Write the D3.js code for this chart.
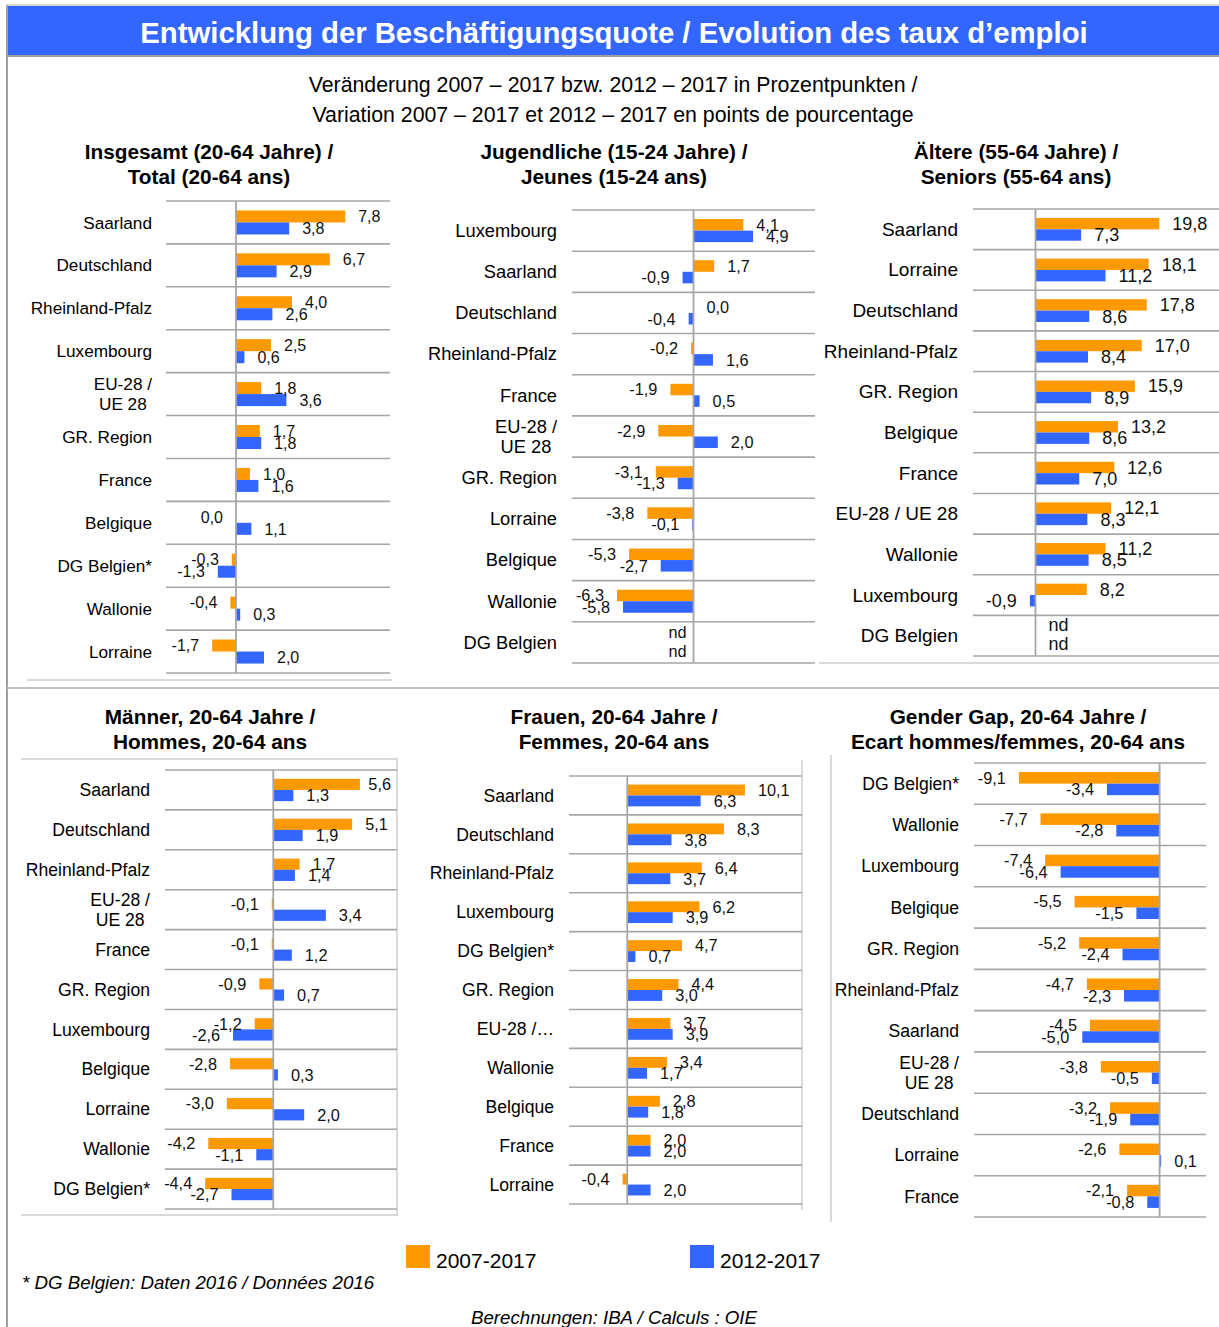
<!DOCTYPE html>
<html><head><meta charset="utf-8">
<script src="https://cdn.jsdelivr.net/npm/d3@7"></script>
<style>
body{margin:0;background:#fff;}
text{font-family:"Liberation Sans",Arial,sans-serif;}
</style></head>
<body><svg id="c" width="1219" height="1327"></svg>
<script>
// ---------- DATA ----------
const seriesNames = ["2007-2017", "2012-2017"];

const totalTitle = ["Insgesamt (20-64 Jahre) /", "Total (20-64 ans)"];
const totalCats = ["Saarland","Deutschland","Rheinland-Pfalz","Luxembourg","EU-28 /\nUE 28","GR. Region","France","Belgique","DG Belgien*","Wallonie","Lorraine"];
const total0717 = [7.8, 6.7, 4.0, 2.5, 1.8, 1.7, 1.0, -0, -0.3, -0.4, -1.7];
const total1217 = [3.8, 2.9, 2.6, 0.6, 3.6, 1.8, 1.6, 1.1, -1.3, 0.3, 2.0];

const youthTitle = ["Jugendliche (15-24 Jahre) /", "Jeunes (15-24 ans)"];
const youthCats = ["Luxembourg","Saarland","Deutschland","Rheinland-Pfalz","France","EU-28 /\nUE 28","GR. Region","Lorraine","Belgique","Wallonie","DG Belgien"];
const youth0717 = [4.1, 1.7, 0.0, -0.2, -1.9, -2.9, -3.1, -3.8, -5.3, -6.3, null];
const youth1217 = [4.9, -0.9, -0.4, 1.6, 0.5, 2.0, -1.3, -0.1, -2.7, -5.8, null];

const seniorTitle = ["Ältere (55-64 Jahre) /", "Seniors (55-64 ans)"];
const seniorCats = ["Saarland","Lorraine","Deutschland","Rheinland-Pfalz","GR. Region","Belgique","France","EU-28 / UE 28","Wallonie","Luxembourg","DG Belgien"];
const senior0717 = [19.8, 18.1, 17.8, 17.0, 15.9, 13.2, 12.6, 12.1, 11.2, 8.2, null];
const senior1217 = [7.3, 11.2, 8.6, 8.4, 8.9, 8.6, 7.0, 8.3, 8.5, -0.9, null];

const menTitle = ["Männer, 20-64 Jahre /", "Hommes, 20-64 ans"];
const menCats = ["Saarland","Deutschland","Rheinland-Pfalz","EU-28 /\nUE 28","France","GR. Region","Luxembourg","Belgique","Lorraine","Wallonie","DG Belgien*"];
const men0717 = [5.6, 5.1, 1.7, -0.1, -0.1, -0.9, -1.2, -2.8, -3.0, -4.2, -4.4];
const men1217 = [1.3, 1.9, 1.4, 3.4, 1.2, 0.7, -2.6, 0.3, 2.0, -1.1, -2.7];

const womenTitle = ["Frauen, 20-64 Jahre /", "Femmes, 20-64 ans"];
const womenCats = ["Saarland","Deutschland","Rheinland-Pfalz","Luxembourg","DG Belgien*","GR. Region","EU-28 /…","Wallonie","Belgique","France","Lorraine"];
const women0717 = [10.1, 8.3, 6.4, 6.2, 4.7, 4.4, 3.7, 3.4, 2.8, 2.0, -0.4];
const women1217 = [6.3, 3.8, 3.7, 3.9, 0.7, 3.0, 3.9, 1.7, 1.8, 2.0, 2.0];

const gapTitle = ["Gender Gap, 20-64 Jahre /", "Ecart hommes/femmes, 20-64 ans"];
const gapCats = ["DG Belgien*","Wallonie","Luxembourg","Belgique","GR. Region","Rheinland-Pfalz","Saarland","EU-28 /\nUE 28","Deutschland","Lorraine","France"];
const gap0717 = [-9.1, -7.7, -7.4, -5.5, -5.2, -4.7, -4.5, -3.8, -3.2, -2.6, -2.1];
const gap1217 = [-3.4, -2.8, -6.4, -1.5, -2.4, -2.3, -5.0, -0.5, -1.9, 0.1, -0.8];

// ---------- LAYOUT ----------
const panels = [
  {title: totalTitle, cats: totalCats, a: total0717, b: total1217, domain: [-5, 11], xr: [166, 390], gridR: 390, yr: [201, 673], titleX: 209, titleY: 159, labR: 152, catFs: 17.2, valFs: 16, ndSide: 1},
  {title: youthTitle, cats: youthCats, a: youth0717, b: youth1217, domain: [-10, 10], xr: [572, 815], gridR: 815, yr: [210, 663], titleX: 614, titleY: 159, labR: 557, catFs: 18.3, valFs: 16.3, ndSide: -1},
  {title: seniorTitle, cats: seniorCats, a: senior0717, b: senior1217, domain: [-10, 30], xr: [973, 1223], gridR: 1219, yr: [209, 656], titleX: 1016, titleY: 159, labR: 958, catFs: 19, valFs: 18, ndSide: 1},
  {title: menTitle, cats: menCats, a: men0717, b: men1217, domain: [-7, 8], xr: [165, 397], gridR: 397, yr: [770, 1209], titleX: 210, titleY: 724, labR: 150, catFs: 17.6, valFs: 16.3, ndSide: 1},
  {title: womenTitle, cats: womenCats, a: women0717, b: women1217, domain: [-5, 15], xr: [569, 802], gridR: 802, yr: [776, 1204], titleX: 614, titleY: 724, labR: 554, catFs: 17.6, valFs: 16.3, ndSide: 1},
  {title: gapTitle, cats: gapCats, a: gap0717, b: gap1217, domain: [-12, 3], xr: [974, 1206], gridR: 1206, yr: [763, 1217], titleX: 1018, titleY: 724, labR: 959, catFs: 17.6, valFs: 16.3, ndSide: 1}
];

const ORANGE = "#ff9900", BLUE = "#3366ff";
const GRID = "#a6a6a6", LIGHT = "#d9d9d9";
const loc = d3.formatLocale({decimal: ",", thousands: ".", grouping: [3], currency: ["", "€"], minus: "-"});
const fmt = loc.format(".1f");

const svg = d3.select("#c");

// frame & title band
svg.append("rect").attr("x", 7).attr("y", 6).attr("width", 1212).attr("height", 49).attr("fill", BLUE);
svg.append("line").attr("x1", 7).attr("x2", 1219).attr("y1", 5).attr("y2", 5).attr("stroke", "#c8c8c8").attr("stroke-width", 1.5);
svg.append("line").attr("x1", 7).attr("x2", 1219).attr("y1", 56).attr("y2", 56).attr("stroke", "#a0a0a0").attr("stroke-width", 2);
svg.append("line").attr("x1", 7).attr("x2", 7).attr("y1", 5).attr("y2", 1327).attr("stroke", "#a0a0a0").attr("stroke-width", 2);
svg.append("text").attr("x", 614).attr("y", 43).attr("text-anchor", "middle").attr("fill", "#fff")
  .attr("font-weight", "bold").attr("font-size", 29.3).text("Entwicklung der Beschäftigungsquote / Evolution des taux d’emploi");

const subtitle = ["Veränderung 2007 – 2017 bzw. 2012 – 2017 in Prozentpunkten /", "Variation 2007 – 2017 et 2012 – 2017 en points de pourcentage"];
svg.selectAll("text.sub").data(subtitle).enter().append("text").attr("class", "sub")
  .attr("x", 613).attr("y", (d, i) => 92 + i * 30).attr("text-anchor", "middle").attr("font-size", 21.3).text(d => d);

// divider between rows of panels
svg.append("line").attr("x1", 7).attr("x2", 1219).attr("y1", 688).attr("y2", 688).attr("stroke", "#c0c0c0").attr("stroke-width", 2);

// chart area borders
const borders = [
  [27, 680, 392, 680], [819, 663, 1219, 663],
  [21, 759, 398, 759], [397, 759, 397, 1215], [21, 1215, 398, 1215],
  [802, 760, 802, 1210], [831, 755, 831, 1222]
];
svg.selectAll("line.border").data(borders).enter().append("line").attr("class", "border")
  .attr("x1", d => d[0]).attr("y1", d => d[1]).attr("x2", d => d[2]).attr("y2", d => d[3])
  .attr("stroke", LIGHT).attr("stroke-width", 2);

panels.forEach(p => {
  const g = svg.append("g");
  const x = d3.scaleLinear().domain(p.domain).range(p.xr);
  const y = d3.scaleBand().domain(p.cats.map((c, i) => i)).range(p.yr).padding(0);
  const bh = y.bandwidth() * 0.28;
  const x0 = x(0);
  const gridL = p.xr[0];

  // title
  g.selectAll("text.pt").data(p.title).enter().append("text").attr("class", "pt")
    .attr("x", p.titleX).attr("y", (d, i) => p.titleY + i * 25).attr("text-anchor", "middle")
    .attr("font-weight", "bold").attr("font-size", 20.8).text(d => d);

  // row separators
  const seps = d3.range(p.cats.length + 1);
  g.selectAll("line.sep").data(seps).enter().append("line").attr("class", "sep")
    .attr("x1", gridL).attr("x2", p.gridR)
    .attr("y1", i => i < p.cats.length ? y(i) : p.yr[1]).attr("y2", i => i < p.cats.length ? y(i) : p.yr[1])
    .attr("stroke", GRID).attr("stroke-width", 1.6);

  // bars
  const rows = p.cats.map((c, i) => ({i, c, a: p.a[i], b: p.b[i]}));
  const barData = [];
  rows.forEach(r => {
    barData.push({i: r.i, v: r.a, s: 0});
    barData.push({i: r.i, v: r.b, s: 1});
  });
  const cy = d => y(d.i) + y.bandwidth() / 2 - bh + d.s * bh;
  g.selectAll("rect.bar").data(barData.filter(d => d.v !== null)).enter().append("rect").attr("class", "bar")
    .attr("x", d => Math.min(x(d.v), x0)).attr("width", d => Math.abs(x(d.v) - x0))
    .attr("y", d => cy(d)).attr("height", bh)
    .attr("fill", d => d.s === 0 ? ORANGE : BLUE);

  // zero axis
  g.append("line").attr("x1", x0).attr("x2", x0).attr("y1", p.yr[0]).attr("y2", p.yr[1])
    .attr("stroke", GRID).attr("stroke-width", 1.8);

  // value labels
  const vl = g.selectAll("text.val").data(barData).enter().append("text").attr("class", "val")
    .attr("font-size", p.valFs).attr("dominant-baseline", "middle").attr("fill", "#111")
    .attr("y", d => d.v === null
      ? y(d.i) + y.bandwidth() / 2 + (d.s === 0 ? -9 : 10)
      : cy(d) + bh / 2 + 1.5)
    .text(d => d.v === null ? "nd" : fmt(d.v === 0 ? 0 : d.v));
  vl.each(function(d) {
    const t = d3.select(this);
    if (d.v === null) {
      if (p.ndSide < 0) t.attr("text-anchor", "end").attr("x", x0 - 7);
      else t.attr("text-anchor", "start").attr("x", x0 + 13);
      return;
    }
    const neg = d.v < 0 || Object.is(d.v, -0);
    if (neg) {
      t.attr("text-anchor", "end").attr("x", x(d.v) - 13);
    } else {
      const w = this.getComputedTextLength();
      let sx = x(d.v) + 13;
      if (sx + w > p.gridR - 6) sx = p.gridR - 6 - w;
      t.attr("text-anchor", "start").attr("x", sx);
    }
  });

  // category labels
  rows.forEach(r => {
    const lines = r.c.split("\n");
    const yc = y(r.i) + y.bandwidth() / 2 + 1.5;
    const lh = 20;
    const tg = g.append("g");
    const ts = lines.map((ln, k) => tg.append("text").attr("font-size", p.catFs).attr("dominant-baseline", "middle")
      .attr("y", yc + (k - (lines.length - 1) / 2) * lh).text(ln));
    if (lines.length === 1) {
      ts[0].attr("text-anchor", "end").attr("x", p.labR);
    } else {
      const maxW = d3.max(ts, t => t.node().getComputedTextLength());
      ts.forEach(t => t.attr("text-anchor", "middle").attr("x", p.labR - maxW / 2));
    }
  });
});

// legend
const legend = svg.append("g");
const legX = [406, 690];
seriesNames.forEach((s, i) => {
  legend.append("rect").attr("x", legX[i]).attr("y", 1245).attr("width", 24).attr("height", 23).attr("fill", i === 0 ? ORANGE : BLUE);
  legend.append("text").attr("x", legX[i] + 30).attr("y", 1268).attr("font-size", 21).text(s);
});

svg.append("text").attr("x", 22).attr("y", 1289).attr("font-size", 18.7).attr("font-style", "italic")
  .text("* DG Belgien: Daten 2016 / Données 2016");
svg.append("text").attr("x", 614).attr("y", 1324).attr("font-size", 18.7).attr("font-style", "italic").attr("text-anchor", "middle")
  .text("Berechnungen: IBA / Calculs : OIE");
</script>
</body></html>
